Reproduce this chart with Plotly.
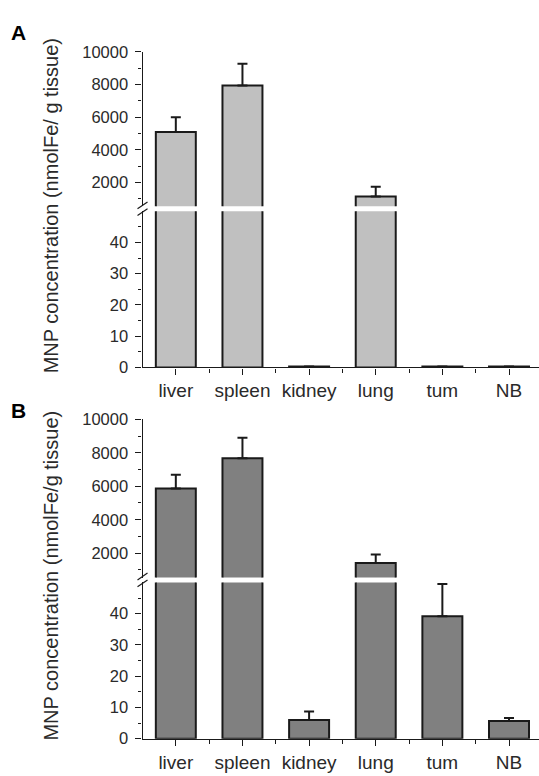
import plotly.graph_objects as go

W, H = 539, 776

organs = ["liver", "spleen", "kidney", "lung", "tum", "NB"]
a_values = [5100, 7950, 0.3, 1150, 0.3, 0.3]
a_errors = [900, 1330, 0, 600, 0, 0]
b_values = [5860, 7670, 6.0, 1420, 39.2, 5.65]
b_errors = [830, 1220, 2.7, 500, 10.3, 0.95]

upper_ticks = [2000, 4000, 6000, 8000, 10000]
upper_labels = ["2000", "4000", "6000", "8000", "10000"]
upper_minor = [1000, 3000, 5000, 7000, 9000]
lower_ticks = [0, 10, 20, 30, 40]
lower_labels = ["0", "10", "20", "30", "40"]
lower_minor = [5, 15, 25, 35, 45]
UPPER_RANGE = [550, 10000]
LOWER_RANGE = [0, 50]

A_COLOR = "#c0c0c0"
B_COLOR = "#808080"
FONT = "Arial, Liberation Sans, sans-serif"
TXT = "#2a2a2a"
LINE = "#1a1a1a"

xpos = list(range(len(organs)))


def px(x):
    return x / W


def py(y):
    return 1 - y / H


fig = go.Figure()


def add_panel(values, errors, color, xa, ya_up, ya_lo):
    up_err = [e if v >= UPPER_RANGE[0] else 0 for v, e in zip(values, errors)]
    lo_err = [e if v < LOWER_RANGE[1] else 0 for v, e in zip(values, errors)]
    for ya, err in ((ya_up, up_err), (ya_lo, lo_err)):
        fig.add_trace(go.Bar(
            x=xpos, y=values, xaxis=xa, yaxis=ya, width=0.6,
            marker=dict(color=color, line=dict(color=LINE, width=2)),
            error_y=dict(type="data", array=err, arrayminus=[0] * len(err),
                         symmetric=False, color=LINE, thickness=2, width=5),
            showlegend=False, hoverinfo="skip",
        ))


add_panel(a_values, a_errors, A_COLOR, "x", "y", "y2")
add_panel(b_values, b_errors, B_COLOR, "x2", "y3", "y4")

X0 = 142.5
xdom = [px(X0), 1.0]

xcommon = dict(
    range=[-0.5, 5.45], domain=xdom, showline=True, linecolor=LINE, linewidth=1.2,
    tickmode="array", tickvals=xpos, ticktext=organs, ticks="outside", ticklen=6,
    tickcolor=LINE, tickwidth=1, showgrid=False, zeroline=False,
    tickfont=dict(family=FONT, size=19, color=TXT),
    minor=dict(tickmode="array", tickvals=[0.5, 1.5, 2.5, 3.5, 4.5], ticks="outside",
               ticklen=4, tickcolor=LINE, showgrid=False),
    fixedrange=True,
)

ycommon = dict(
    showline=True, linecolor=LINE, linewidth=1.2, ticks="outside", ticklen=6,
    tickcolor=LINE, tickwidth=1, showgrid=False, zeroline=False,
    tickfont=dict(family=FONT, size=16.5, color=TXT), ticklabelstandoff=4,
    tickmode="array", fixedrange=True,
)

up_minor = dict(tickmode="array", tickvals=upper_minor, ticks="outside", ticklen=3,
                tickcolor=LINE, showgrid=False)
lo_minor = dict(tickmode="array", tickvals=lower_minor, ticks="outside", ticklen=3,
                tickcolor=LINE, showgrid=False)

fig.update_layout(
    width=W, height=H, margin=dict(l=0, r=0, t=0, b=0),
    paper_bgcolor="white", plot_bgcolor="rgba(0,0,0,0)",
    bargap=0.4,
    xaxis=dict(anchor="y2", **xcommon),
    xaxis2=dict(anchor="y4", **xcommon),
    yaxis=dict(anchor="x", domain=[py(202), py(44)], range=UPPER_RANGE,
               tickvals=upper_ticks, ticktext=upper_labels, minor=up_minor, **ycommon),
    yaxis2=dict(anchor="x", domain=[py(367), py(207)], range=LOWER_RANGE,
                tickvals=lower_ticks, ticktext=lower_labels, minor=lo_minor, **ycommon),
    yaxis3=dict(anchor="x2", domain=[py(582), py(420)], range=UPPER_RANGE,
                tickvals=upper_ticks, ticktext=upper_labels, minor=up_minor, **ycommon),
    yaxis4=dict(anchor="x2", domain=[py(747), py(587)], range=LOWER_RANGE,
                tickvals=lower_ticks, ticktext=lower_labels, minor=lo_minor, **ycommon),
)

# panel letters
for letter, ycen in (("A", 24), ("B", 411)):
    fig.add_annotation(x=px(9), y=py(ycen), xref="paper", yref="paper",
                       text=f"<b>{letter}</b>", showarrow=False, xanchor="left",
                       yanchor="middle", font=dict(family=FONT, size=21, color="black"))

# y-axis titles
for title, ycen in (("MNP concentration (nmolFe/ g tissue)", 202),
                    ("MNP concentration (nmolFe/g tissue)", 580)):
    fig.add_annotation(x=px(51), y=py(ycen), xref="paper", yref="paper",
                       text=title, showarrow=False, textangle=-90,
                       xanchor="center", yanchor="middle",
                       font=dict(family=FONT, size=20, color=TXT))

# axis-break slashes
for yb in (204.5, 584.5):
    for dy in (-3.5, 3.5):
        yc = yb + dy
        fig.add_shape(type="line", xref="paper", yref="paper",
                      x0=px(X0 - 5), y0=py(yc + 3.5), x1=px(X0 + 5), y1=py(yc - 3.5),
                      line=dict(color=LINE, width=1.2))

fig.write_html("out.html", config={"displayModeBar": False},
               post_script="document.body.style.margin='0';")
